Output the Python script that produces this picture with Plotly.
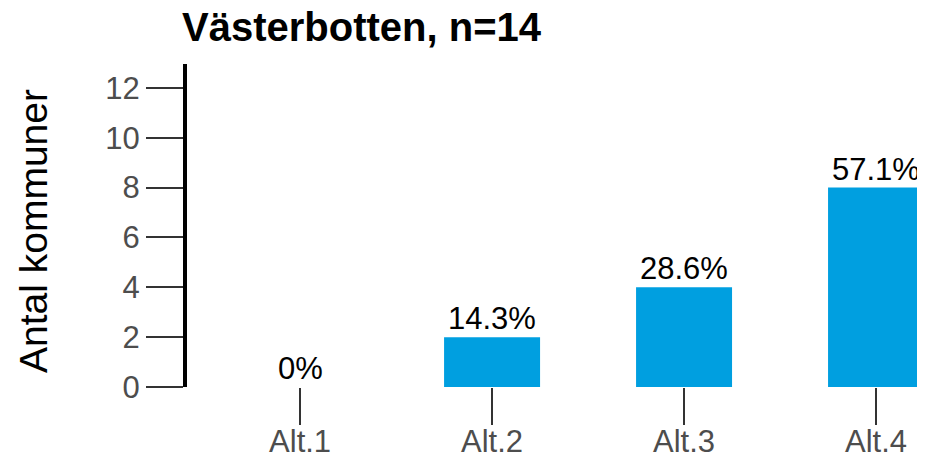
import plotly.graph_objects as go

categories = ["Alt.1", "Alt.2", "Alt.3", "Alt.4"]
counts = [0, 2, 4, 8]
labels = ["0%", "14.3%", "28.6%", "57.1%"]
title = "Västerbotten, n=14"
y_title = "Antal kommuner"
y_ticks = [0, 2, 4, 6, 8, 10, 12]

FONT = "Liberation Sans, Arial"
# page body has an 8px default margin; figure laid out to compensate
W, H = 917, 451
L, R, T, B = 179, 0, 56, 72
PW = W - L - R
PH = H - T - B

fig = go.Figure(go.Bar(
    x=categories, y=counts,
    marker=dict(color="#009FE0", line=dict(width=0)),
    cliponaxis=False, width=0.5,
))

annotations = [
    dict(x=c, y=v, text=t, xref="x", yref="y", xanchor="center", yanchor="bottom",
         yshift=-1, showarrow=False, font=dict(size=31, color="black", family=FONT))
    for c, v, t in zip(categories, counts, labels)
]
annotations.append(dict(text=y_title, textangle=-90, xref="paper", yref="paper",
                        x=(33 - 8 - L) / PW, y=(387 - 231) / PH,
                        xanchor="center", yanchor="middle", showarrow=False,
                        font=dict(size=39, color="black", family=FONT)))

fig.update_layout(
    width=W, height=H,
    margin=dict(l=L, r=R, t=T, b=B, autoexpand=False),
    plot_bgcolor="white", paper_bgcolor="white",
    font=dict(family=FONT),
    showlegend=False,
    title=dict(text="<b>" + title + "</b>", x=(182 - 8) / W, xanchor="left",
               y=1 - 19 / H, yanchor="middle",
               font=dict(size=40, color="black")),
    annotations=annotations,
)
fig.update_xaxes(
    range=[-0.589, 3.255], showline=False, showgrid=False, zeroline=False,
    ticks="outside", ticklen=37, tickwidth=2, tickcolor="#333333",
    tickfont=dict(size=31, color="#4d4d4d"), automargin=False,
    ticklabelstandoff=-10,
)
fig.update_yaxes(
    range=[0, 12.96], showline=True, linewidth=4, linecolor="black",
    showgrid=False, zeroline=False, tickvals=y_ticks,
    ticks="outside", ticklen=37, tickwidth=2, tickcolor="#333333",
    tickfont=dict(size=31, color="#4d4d4d"), automargin=False,
)

fig.write_html("out.html")
